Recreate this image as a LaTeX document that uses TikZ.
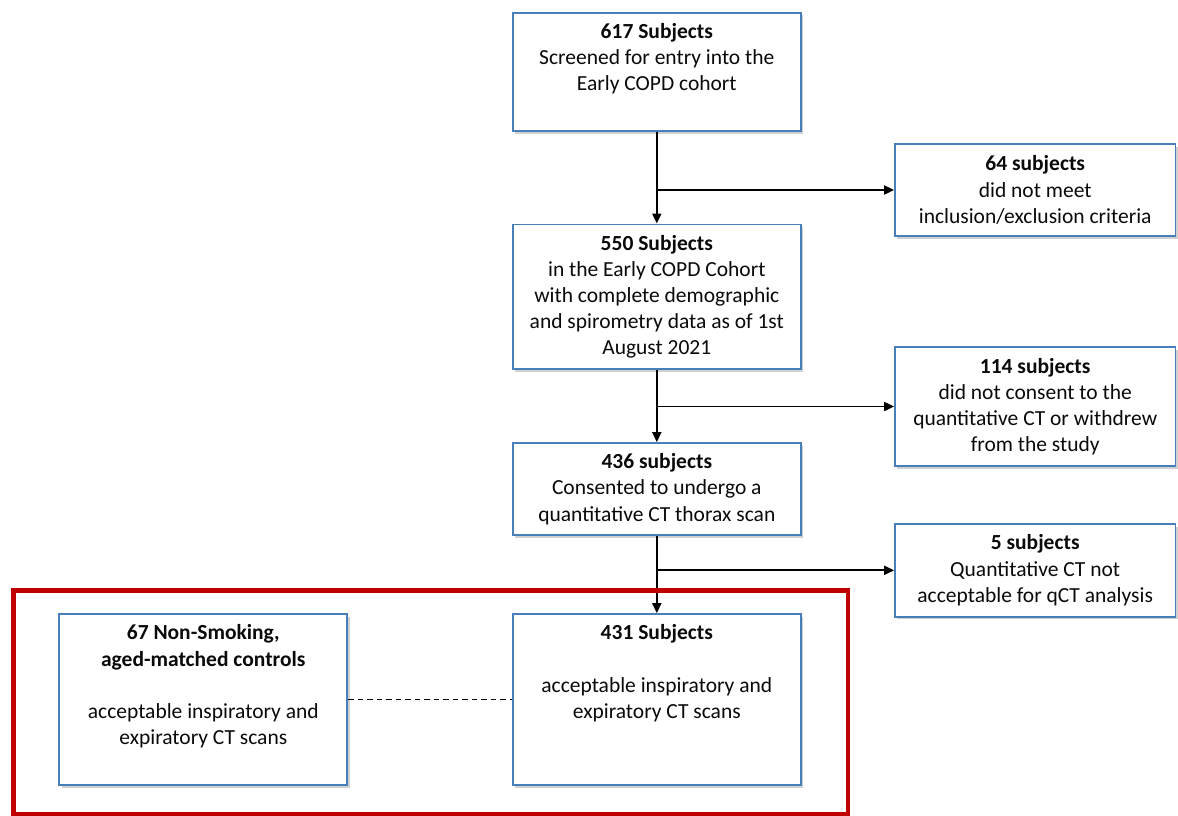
\documentclass[tikz,border=0pt]{standalone}
\usepackage{fontspec}
\setmainfont{Carlito}
\usetikzlibrary{arrows.meta,shadows}

\definecolor{boxblue}{RGB}{74,126,187}
\definecolor{framered}{RGB}{192,0,0}
\definecolor{ink}{RGB}{10,10,10}

% text block of a flow box: width, height, lines
\newcommand\flowtext[3]{%
  \parbox[c][#2][c]{#1}{\centering\fontsize{21.5pt}{26.2pt}\selectfont\color{ink}#3}}

\tikzset{
  flowbox/.style={draw=boxblue, line width=1.7pt, fill=white, inner sep=0pt,
    rectangle, drop shadow={shadow xshift=2.4pt, shadow yshift=-2.8pt,
    opacity=0.3, fill=black!60}},
  flowarrow/.style={draw=black, line width=1.9pt, -{Triangle[length=10pt,width=9pt]}},
  linkline/.style={draw=black, line width=1.7pt, dash pattern=on 5.5pt off 4pt},
}

\begin{document}
\begin{tikzpicture}[x=1pt,y=1pt]
\useasboundingbox[fill=white] (0,0) rectangle (1178,-815);

% main column
\node[flowbox] (b1) at (656.8,-71.8) {\flowtext{288.3pt}{118.3pt}{%
  \textbf{617 Subjects}\\Screened for entry into the\\Early COPD cohort\par\vspace{26.2pt}}};
\node[flowbox] (b3) at (656.8,-296.7) {\flowtext{288.3pt}{144.7pt}{%
  \textbf{550 Subjects}\\in the Early COPD Cohort\\with complete demographic\\and spirometry data as of 1st\\August 2021}};
\node[flowbox] (b5) at (656.8,-489) {\flowtext{288.3pt}{92pt}{%
  \textbf{436 subjects}\\Consented to undergo a\\quantitative CT thorax scan}};
\node[flowbox] (b7) at (656.8,-699.5) {\flowtext{288.3pt}{171pt}{%
  \textbf{431 Subjects}\\[26.2pt]acceptable inspiratory and\\expiratory CT scans\par\vspace{52.4pt}}};

% exclusions
\node[flowbox] (b2) at (1035.2,-190) {\flowtext{280.5pt}{92pt}{%
  \textbf{64 subjects}\\did not meet\\inclusion/exclusion criteria}};
\node[flowbox] (b4) at (1035.2,-406.5) {\flowtext{280.5pt}{119pt}{%
  \textbf{114 subjects}\\did not consent to the\\quantitative CT or withdrew\\from the study}};
\node[flowbox] (b6) at (1035.2,-570.3) {\flowtext{280.5pt}{92.7pt}{%
  \textbf{5 subjects}\\Quantitative CT not\\acceptable for qCT analysis}};

% control group
\node[flowbox] (b8) at (203.3,-699.5) {\flowtext{288pt}{171pt}{%
  \textbf{67 Non-Smoking,}\\\textbf{aged-matched controls}\\[26.2pt]acceptable inspiratory and\\expiratory CT scans\par\vspace{26.2pt}}};

% connectors
\draw[flowarrow] (b1.south) -- (b3.north);
\draw[flowarrow] (b1.south |- b2.west) -- (b2.west);
\draw[flowarrow] (b3.south) -- (b5.north);
\draw[flowarrow] (b3.south |- b4.west) -- (b4.west);
\draw[flowarrow] (b5.south) -- (b7.north);
\draw[flowarrow] (b5.south |- b6.west) -- (b6.west);
\draw[linkline] (b8.east) -- (b7.west);

% study group frame
\draw[framered, line width=4.8pt] (13.5,-590.5) rectangle (848,-814);
\end{tikzpicture}
\end{document}
